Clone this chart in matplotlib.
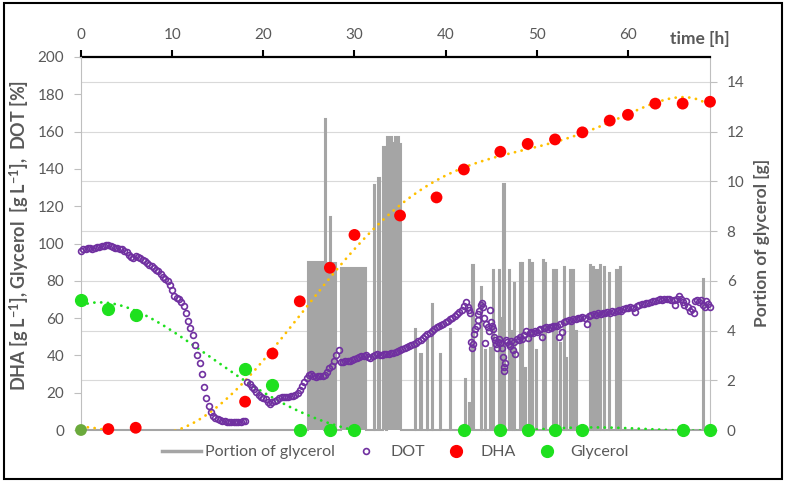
import numpy as np
import matplotlib
matplotlib.use("Agg")
import matplotlib.pyplot as plt
from matplotlib.lines import Line2D
from matplotlib.patches import Rectangle

plt.rcParams['font.family'] = ['Lato', 'DejaVu Sans']
plt.rcParams['mathtext.fontset'] = 'custom'
plt.rcParams['mathtext.rm'] = 'Lato'
plt.rcParams['mathtext.bf'] = 'Lato:bold'
plt.rcParams['mathtext.it'] = 'Lato:italic'

# ---------------- data ----------------
dha_t = [0, 3, 6, 18, 21, 24, 27.3, 30, 35, 39, 42, 46, 49, 52, 55, 58, 60, 63, 66, 69]
dha_v = [0, 0.5, 1.2, 15.2, 41, 69, 87, 104.6, 115, 124.7, 139.7, 149.2, 153.4, 155.8, 159.6, 165.9, 169, 175, 175, 176]

gly_t = [0, 3, 6, 18, 21, 24, 27.3, 30, 42, 46, 49, 52, 55, 66, 69]
gly_v = [69.6, 65, 61.8, 32.9, 24.1, 0, 0, 0, 0, 0, 0, 0, 0, 0, 0]

# DOT [%]
dot_t1 = np.arange(0, 18.01, 0.25)
dot_v1 = [96, 97, 97, 97.5, 97.5, 97, 97.5, 98, 98, 98.5,
          98.5, 99, 99, 98.5, 98, 97.5, 97.5, 97, 97, 96,
          95.5, 94, 92.5, 92, 93.5, 93, 92, 91, 90.5, 89.5,
          88.5, 88, 87, 86, 85, 83.5, 82, 81, 80, 78,
          75, 72, 71, 70, 68.5, 66.5, 63, 58.5, 54.5, 51,
          45.5, 40, 36, 30, 23, 17, 13, 9.5, 7.5, 6.5,
          6, 5.5, 5, 5, 4.5, 4.5, 4.5, 4.5, 4.5, 4.5,
          4.5, 5, 5]
dot_t2 = np.arange(18.25, 28.26, 0.25)
dot_v2 = [26, 24.5, 23, 22, 20.5, 18.5, 17.5, 17, 16.5, 15,
          14, 15, 15.5, 16, 17, 17.5, 17.5, 17.5, 17.5, 18,
          18, 19, 20, 21.5, 23.5, 25.5, 28, 29.5, 30, 29,
          28.5, 29, 29, 29, 29.5, 31, 33, 34.5, 37, 40,
          43]
dot_t3 = np.arange(28.5, 42.26, 0.25)
dot_v3 = [36.5, 36.5, 37, 37, 37, 37.5, 38, 38.5, 39, 39.5,
          39.5, 40, 39, 38.5, 39.5, 40, 40.5, 40, 40, 40.5,
          40.5, 41, 41.5, 41.5, 42, 42.5, 43, 43.5, 44, 44.5,
          45, 45.5, 46, 46.5, 47.5, 48.5, 49.5, 50.5, 51.5, 52,
          53, 54, 55, 55.5, 56.5, 57, 58, 58.5, 59.5, 60,
          61, 62, 63.5, 64.5, 66.5, 68.5]
dot_t4 = [42.5, 42.6, 42.7, 42.8, 42.9, 43.0, 43.1, 43.25, 43.4, 43.5,
          43.6, 43.7, 43.85, 44.0, 44.1, 44.25, 44.3, 44.45, 44.6, 44.75,
          44.9, 45.0, 45.1, 45.2, 45.3, 45.4, 45.5, 45.6, 45.7, 45.85,
          46.0, 46.15, 46.3, 46.35, 46.4, 46.5, 46.6, 46.75, 46.9, 47.05,
          47.2, 47.35, 47.5, 47.65, 47.8, 48.0, 48.2, 48.4, 48.6, 48.8,
          49.0, 49.2, 49.4, 49.6, 49.8, 50.0, 50.2, 50.4, 50.6, 50.8,
          51.0, 51.2, 51.4, 51.6, 51.8, 52.0, 52.2, 52.4, 52.6, 52.8,
          53.0, 53.25, 53.5, 53.75, 54.0, 54.25, 54.5, 54.75, 55.0, 55.25,
          55.5, 55.75, 56.0, 56.25, 56.5, 56.75, 57.0, 57.25, 57.5, 57.75,
          58.0, 58.25, 58.5, 58.75, 59.0, 59.25, 59.5, 59.75, 60.0, 60.25,
          60.5, 60.75, 61.0, 61.25, 61.5, 61.75, 62.0, 62.25, 62.5, 62.75,
          63.0, 63.25, 63.5, 63.75, 64.0, 64.25, 64.5, 64.75, 65.0, 65.2,
          65.4, 65.6, 65.8, 66.0, 66.2, 66.4, 66.6, 66.8, 67.0, 67.2,
          67.4, 67.6, 67.8, 68.0, 68.2, 68.4, 68.6, 68.8, 69.0]
dot_v4 = [66, 64.5, 63, 47, 44, 46, 51.5, 54, 56, 59,
          62, 64, 67, 68, 66, 60, 46.5, 57, 55, 53,
          64.5, 58, 56, 54, 50, 48.5, 46, 44, 47, 49,
          46.5, 44, 39, 34, 31.5, 36, 48.5, 47, 46, 45,
          47.5, 43, 47, 41, 49, 48.5, 50, 49, 51, 53,
          49.5, 52, 52.5, 52, 53, 52.5, 53.5, 54, 50, 54.5,
          55, 54, 55, 54.5, 55.5, 56, 55.5, 50, 57, 52.5,
          58, 58.5, 59, 58.5, 59.5, 59.5, 60, 60, 60.5, 60,
          57, 61, 61.5, 62, 61.5, 62.5, 62, 62.5, 63, 63.5,
          63, 64, 63.5, 64, 64.5, 64, 65, 65.5, 65.5, 66,
          65.5, 63.5, 66.5, 67, 67.5, 67.5, 68, 68, 68.5, 69,
          69, 69.5, 70, 69.5, 70, 70.5, 70, 69.5, 69.5, 67,
          70.5, 72, 70, 68.5, 67, 69, 66, 64, 65, 63,
          69, 69.5, 68.5, 69.5, 67, 66, 69, 67.5, 66]

# Portion of glycerol [g]: feeding pulses (start h, end h, amount g)
feed_start = [24.9, 26.75, 26.9, 27.3, 27.45, 28.5, 32.1, 32.6, 33.1, 33.55, 34.15, 34.45, 34.9,
              36.64, 37.24, 37.94, 38.54, 39.34, 40.44, 42.14, 42.6, 42.94, 43.84, 44.34, 44.84,
              45.24, 45.84, 46.04, 46.34, 46.94, 47.24, 47.54, 48.14, 48.34, 48.74, 49.14, 49.44,
              49.94, 50.64, 50.94, 51.74, 52.14, 52.54, 52.94, 53.24, 53.64, 53.94, 54.34, 55.84,
              56.14, 56.54, 56.94, 57.34, 57.94, 58.74, 59.14, 68.24]
feed_end = [26.7, 26.85, 27.25, 27.4, 27.95, 31.25, 32.3, 32.8, 33.5, 34.15, 34.45, 34.9, 35.15,
            36.76, 37.36, 38.06, 38.66, 39.46, 40.56, 42.26, 42.8, 43.06, 43.96, 44.46, 44.96,
            45.36, 45.96, 46.16, 46.46, 47.06, 47.36, 47.66, 48.26, 48.46, 48.86, 49.26, 49.56,
            50.06, 50.76, 51.06, 51.86, 52.26, 52.66, 53.06, 53.36, 53.76, 54.06, 54.46, 55.96,
            56.26, 56.66, 57.06, 57.46, 58.06, 58.86, 59.26, 68.36]
feed_amount = [6.75, 12.5, 6.7, 8.55, 6.7, 6.5, 9.85, 10.15, 11.4, 11.8, 11.55, 11.8, 11.5,
               4.05, 3.05, 3.63, 5.05, 3.05, 4.05, 2.05, 1.07, 6.63, 5.76, 3.2, 3.3,
               6.43, 6.43, 4.5, 9.9, 6.43, 4.0, 5.9, 6.73, 6.73, 2.5, 6.84, 6.73,
               3.2, 6.84, 6.73, 6.43, 6.43, 3.5, 6.54, 2.9, 6.43, 6.43, 4.0, 6.63,
               6.54, 6.43, 6.63, 6.54, 6.33, 6.43, 6.54, 6.06]
t_end = 69

x_ticks = [0, 10, 20, 30, 40, 50, 60]
left_ticks = list(range(0, 201, 20))
right_ticks = list(range(0, 15, 2))

# ---------------- styles ----------------
GRAY = '#A5A5A5'
TXT = '#595959'
AXC = '#BFBFBF'
RED = '#FF0000'
GREEN = '#1EE01E'
PURPLE = '#7030A0'
ORANGE = '#FFC000'

fig = plt.figure(figsize=(7.88, 4.84), dpi=100)
ax = fig.add_axes([81 / 788, 54 / 484, 629 / 788, 373 / 484])
ax2 = ax.twinx()

# gray feeding line on ax (right axis)
gx, gy = [0.0], [0.0]
for a, b, h in zip(feed_start, feed_end, feed_amount):
    gx += [a, a, b, b]
    gy += [0, h, h, 0]
gx.append(t_end)
gy.append(0)
ax.fill(gx, gy, color=GRAY, lw=0, zorder=2)
ax.plot(gx, gy, color=GRAY, lw=1.5, solid_joinstyle='miter', zorder=2, clip_on=False)

ax.set_xlim(0, 69)
ax.set_ylim(0, 15)
ax.set_yticks(right_ticks)
ax.yaxis.tick_right()
ax.yaxis.set_label_position('right')
ax.grid(axis='y', color='#D9D9D9', lw=0.8)
ax.set_axisbelow(True)
ax.xaxis.tick_top()
ax.set_xticks(x_ticks)
ax.tick_params(axis='x', direction='out', length=5, width=1.5, color='black',
               labelcolor=TXT, labelsize=11, pad=6)
ax.tick_params(axis='y', direction='out', length=5, width=0.8, color=AXC,
               labelcolor=TXT, labelsize=11, pad=7, right=True, left=False,
               labelright=True, labelleft=False)
for s in ['left', 'bottom']:
    ax.spines[s].set_visible(False)
ax.spines['top'].set_color('black')
ax.spines['top'].set_linewidth(1.6)
ax.spines['right'].set_color(AXC)
ax.spines['right'].set_linewidth(0.8)

# left-axis series on ax2 (polynomial trendlines fitted to the samples)
tt = np.linspace(0, 69, 600)
dha_fit = np.polyval(np.polyfit(dha_t, dha_v, 6), tt)
gly_fit = np.polyval(np.polyfit(gly_t, gly_v, 5), tt)
dotted = dict(lw=2.0, dashes=(0.05, 2.4), dash_capstyle='round')
ax2.plot(tt, gly_fit, color=GREEN, zorder=3, **dotted)
ax2.plot(tt, dha_fit, color=ORANGE, zorder=3, **dotted)

dot_t = np.concatenate([dot_t1, dot_t2, dot_t3, dot_t4])
dot_v = np.concatenate([dot_v1, dot_v2, dot_v3, dot_v4])
ax2.plot(dot_t, dot_v, ls='none', marker='o', ms=4.2, mfc='none', mec=PURPLE, mew=1.2,
         zorder=4, clip_on=False)
ax2.plot(gly_t, gly_v, ls='none', marker='o', ms=8.5, color=GREEN, zorder=5, clip_on=False)
dha_colors = ['#6BAA3C'] + [RED] * (len(dha_t) - 1)
ax2.scatter(dha_t, dha_v, s=8.5 ** 2, c=dha_colors, zorder=6, clip_on=False, linewidths=0)

ax2.set_ylim(0, 200)
ax2.set_yticks(left_ticks)
ax2.yaxis.tick_left()
ax2.tick_params(axis='y', direction='out', length=5, width=0.8, color=AXC,
                labelcolor=TXT, labelsize=11, pad=7, left=True, right=False,
                labelleft=True, labelright=False)
for s in ['top', 'right', 'bottom']:
    ax2.spines[s].set_visible(False)
ax2.spines['left'].set_color(AXC)
ax2.spines['left'].set_linewidth(0.8)
ax2.set_xlim(0, 69)

# labels
fig.text(19 / 788, 1 - 236 / 484,
         r'DHA [g L$^{\mathbf{-1}}$], Glycerol  [g L$^{\mathbf{-1}}$],  DOT [%]',
         rotation=90, ha='center', va='center', fontsize=13, fontweight='bold', color=TXT)
fig.text(762 / 788, 1 - 243 / 484, 'Portion of glycerol [g]', rotation=90,
         ha='center', va='center', fontsize=12.5, fontweight='bold', color=TXT)
fig.text(700 / 788, 1 - 39 / 484, 'time [h]', ha='center', va='center',
         fontsize=12.5, fontweight='bold', color=TXT)

handles = [Line2D([], [], color=GRAY, lw=2.5),
           Line2D([], [], ls='none', marker='o', ms=4.2, mfc='none', mec=PURPLE, mew=1.2),
           Line2D([], [], ls='none', marker='o', ms=8.5, color=RED),
           Line2D([], [], ls='none', marker='o', ms=8.5, color=GREEN)]
labels = ['Portion of glycerol', 'DOT', 'DHA', 'Glycerol']
fig.legend(handles, labels, loc='center', bbox_to_anchor=(0.502, 1 - 452 / 484), ncol=4,
           frameon=False, fontsize=11.5, labelcolor=TXT, handlelength=2.4,
           columnspacing=0.75, handletextpad=0.3)

fig.patches.append(Rectangle((4 / 788, 5 / 484), 778 / 788, 476 / 484, transform=fig.transFigure,
                             fill=False, ec='black', lw=1.5))

fig.savefig('out.png', dpi=100)
